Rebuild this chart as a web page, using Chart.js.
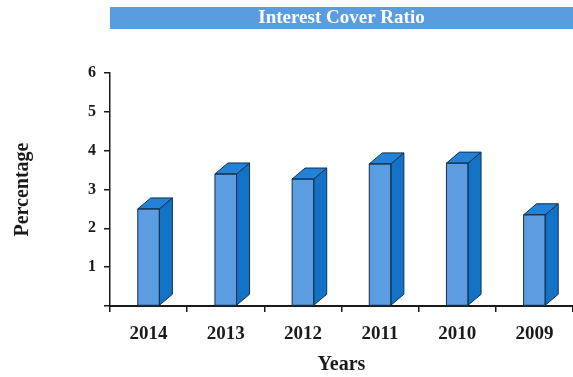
<!DOCTYPE html>
<html>
<head>
<meta charset="utf-8">
<script src="https://cdn.jsdelivr.net/npm/chart.js@4/dist/chart.umd.min.js"></script>
<style>
  html, body { margin: 0; padding: 0; background: #ffffff; }
  #wrap { width: 573px; height: 377px; }
</style>
</head>
<body>
<div id="wrap"><canvas id="c" width="573" height="377"></canvas></div>
<script>
const years = ['2014', '2013', '2012', '2011', '2010', '2009'];
const coverRatio = [2.5, 3.4, 3.27, 3.66, 3.68, 2.35];
const yTicks = [0, 1, 2, 3, 4, 5, 6];

const SERIF = '"Liberation Serif", "DejaVu Serif", serif';
const FRONT = '#5b9de0';
const SIDE = '#1272c6';
const TOP = '#2482d6';
const EDGE = '#10304f';
const DEPTH_X = 13;
const DEPTH_Y = 11;

// Blue banner behind the chart title
const titleBanner = {
  id: 'titleBanner',
  beforeDraw(chart) {
    const tb = chart.titleBlock;
    if (!tb) return;
    const ctx = chart.ctx;
    ctx.save();
    ctx.fillStyle = '#5a9ce0';
    ctx.fillRect(chart.chartArea.left, tb.top, chart.width - chart.chartArea.left, 22);
    ctx.restore();
  }
};

// Extruded side and top faces for each bar
const boxBars = {
  id: 'boxBars',
  afterDatasetsDraw(chart) {
    const ctx = chart.ctx;
    const meta = chart.getDatasetMeta(0);
    ctx.save();
    ctx.lineWidth = 1;
    ctx.strokeStyle = EDGE;
    ctx.lineJoin = 'round';
    meta.data.forEach(bar => {
      const { x, y, base, width } = bar.getProps(['x', 'y', 'base', 'width'], true);
      const l = x - width / 2, r = x + width / 2;
      // side face
      ctx.beginPath();
      ctx.moveTo(r, base);
      ctx.lineTo(r + DEPTH_X, base - DEPTH_Y);
      ctx.lineTo(r + DEPTH_X, y - DEPTH_Y);
      ctx.lineTo(r, y);
      ctx.closePath();
      ctx.fillStyle = SIDE;
      ctx.fill();
      ctx.stroke();
      // top face
      ctx.beginPath();
      ctx.moveTo(l, y);
      ctx.lineTo(l + DEPTH_X, y - DEPTH_Y);
      ctx.lineTo(r + DEPTH_X, y - DEPTH_Y);
      ctx.lineTo(r, y);
      ctx.closePath();
      ctx.fillStyle = TOP;
      ctx.fill();
      ctx.stroke();
      // front outline
      ctx.strokeRect(l, y, width, base - y);
    });
    ctx.restore();
  }
};

new Chart(document.getElementById('c'), {
  type: 'bar',
  data: {
    labels: years,
    datasets: [{
      label: 'Interest Cover Ratio',
      data: coverRatio,
      backgroundColor: FRONT,
      borderWidth: 0,
      categoryPercentage: 1,
      barPercentage: 0.28
    }]
  },
  options: {
    responsive: false,
    animation: false,
    layout: { padding: { top: 7, right: 0, bottom: 0, left: 11 } },
    plugins: {
      legend: { display: false },
      tooltip: { enabled: false },
      title: {
        display: true,
        text: 'Interest Cover Ratio',
        fullSize: false,
        color: '#ffffff',
        font: { family: SERIF, size: 19, weight: 'bold', lineHeight: 1.16 },
        padding: { top: 0, bottom: 44 }
      }
    },
    scales: {
      x: {
        afterFit(scale) { scale.height = 71; },
        border: { display: true, color: '#1a1a1a', width: 2 },
        grid: {
          offset: true,
          drawOnChartArea: false,
          drawTicks: true,
          tickLength: 6,
          color: '#1a1a1a',
          lineWidth: 1.5
        },
        ticks: {
          color: '#1a1a1a',
          padding: 11,
          font: { family: SERIF, size: 19, weight: 'bold' }
        },
        title: {
          display: true,
          text: 'Years',
          color: '#1a1a1a',
          font: { family: SERIF, size: 20, weight: 'bold' },
          padding: { top: 0, bottom: 0 }
        }
      },
      y: {
        min: yTicks[0],
        max: yTicks[yTicks.length - 1],
        afterFit(scale) { scale.width = 99; },
        afterBuildTicks(scale) { scale.ticks = yTicks.map(v => ({ value: v })); },
        border: { display: true, color: '#1a1a1a', width: 1.5 },
        grid: {
          drawOnChartArea: false,
          drawTicks: true,
          tickLength: 6,
          color: '#1a1a1a',
          lineWidth: 1.5
        },
        ticks: {
          color: '#1a1a1a',
          padding: 8,
          font: { family: SERIF, size: 16, weight: 'bold' },
          callback: v => (v === 0 ? '' : String(v))
        },
        title: {
          display: true,
          text: 'Percentage',
          color: '#1a1a1a',
          font: { family: SERIF, size: 20, weight: 'bold' },
          padding: { top: 0, bottom: 0 }
        }
      }
    }
  },
  plugins: [titleBanner, boxBars]
});
</script>
</body>
</html>
